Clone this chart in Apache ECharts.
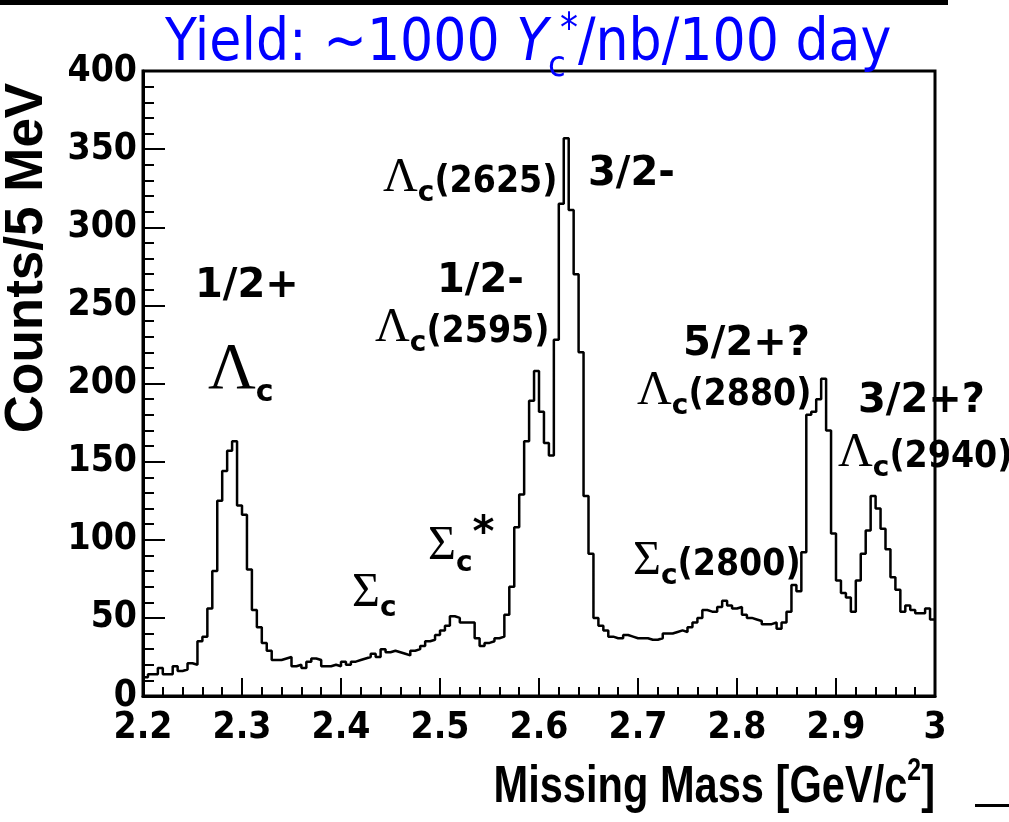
<!DOCTYPE html>
<html><head><meta charset="utf-8">
<script src="https://cdn.jsdelivr.net/npm/echarts@6/dist/echarts.min.js"></script>
<style>html,body{margin:0;padding:0;background:#fff}#c{width:1009px;height:822px}</style>
</head><body><div id="c"></div>
<script>
// ---- data ----
const binStart = 2.2;      // GeV/c^2
const binWidth = 0.005;    // 5 MeV
const counts = [
  12,14,14,18,14,14,19,16,17,21,
  20,35,38,56,80,125,144,157,163,122,
  116,81,55,44,34,29,23,23,24,25,
  19,20,18,22,24,23,19,19,20,19,
  22,20,22,23,24,25,27,25,30,28,
  29,28,27,26,29,30,32,35,36,39,
  42,45,51,50,47,47,47,37,32,34,
  35,37,38,52,70,108,129,163,189,208,
  182,162,154,228,315,357,311,270,220,128,
  91,50,45,42,38,37,37,39,38,37,
  37,37,36,36,37,40,40,41,42,41,
  44,47,50,55,54,54,57,61,58,56,
  57,52,50,49,48,46,46,47,43,47,
  54,71,67,92,180,182,190,203,170,104,
  74,66,63,54,74,91,106,128,120,107,
  94,76,68,54,58,55,53,53,56,49
];
const xTickLabels = ['2.2','2.3','2.4','2.5','2.6','2.7','2.8','2.9','3'];
const yTickLabels = ['0','50','100','150','200','250','300','350','400'];

// ---- chart ----
const NARROW = "'Liberation Sans Narrow','DejaVu Sans Condensed','Arial Narrow','Liberation Sans',sans-serif";
const COND = "'DejaVu Sans Condensed','DejaVu Sans',sans-serif";
const SANS = "'DejaVu Sans','Liberation Sans',sans-serif";
const SERIF = "'Liberation Serif','DejaVu Serif',serif";
const ARIAL = "'Liberation Sans',Arial,sans-serif";

const histData = counts.map((v, i) => [+(binStart + i * binWidth).toFixed(3), v]);
histData.push([+(binStart + counts.length * binWidth).toFixed(3), counts[counts.length - 1]]);

const mctx = document.createElement('canvas').getContext('2d');
function fontStr(p) { return (p.italic ? 'italic ' : '') + (p.bold ? 'bold ' : '') + p.size + 'px ' + p.family; }
function label(x, base, parts, align, color, sx) {
  color = color || '#000';
  sx = sx || 1;
  const widths = parts.map(p => { mctx.font = fontStr(p); return (mctx.measureText(p.t).width + (p.dx || 0)) * sx; });
  const total = widths.reduce((a, b) => a + b, 0);
  let cx = align === 'right' ? x - total : (align === 'center' ? x - total / 2 : x);
  return parts.map((p, i) => {
    const el = {
      type: 'text', x: cx + (p.dx || 0) * sx, y: base + (p.dy || 0) - 0.34 * p.size, silent: true, scaleX: sx,
      style: { text: p.t, font: fontStr(p), fill: color, textAlign: 'left', textVerticalAlign: 'middle' }
    };
    cx += widths[i];
    return el;
  });
}
function lamb(x, base, rest) {
  const parts = [
    { t: 'Λ', size: 48, family: SERIF },
    { t: 'c', size: 28, family: SANS, bold: true, dy: 8 }
  ];
  if (rest) parts.push({ t: rest, size: 37, family: COND, bold: true });
  return label(x, base, parts);
}
function sigma(x, base, rest) {
  const parts = [
    { t: 'Σ', size: 48, family: SERIF },
    { t: 'c', size: 28, family: SANS, bold: true, dy: 8 }
  ];
  if (rest) parts.push({ t: rest, size: 37, family: COND, bold: true });
  return label(x, base, parts);
}
function frac(x, base, t) { return label(x, base, [{ t: t, size: 40, family: SANS, bold: true }]); }

let graphics = [];
// top bar and small line
graphics.push({ type: 'rect', shape: { x: 0, y: 0, width: 948, height: 5 }, style: { fill: '#000' }, silent: true });
graphics.push({ type: 'rect', shape: { x: 975, y: 804, width: 34, height: 3 }, style: { fill: '#000' }, silent: true });
// title
graphics = graphics.concat(label(165, 65, [
  { t: 'Yield: ~1000 ', size: 58, family: NARROW },
  { t: 'Y', size: 58, family: NARROW, italic: true },
  { t: 'c', size: 36, family: NARROW, dy: 14 },
  { t: '*', size: 40, family: NARROW, dy: -20, dx: -6 },
  { t: '/nb/100 day', size: 58, family: NARROW }
], 'left', '#0000ff'));
// axis titles
graphics = graphics.concat(label(935, 805, [
  { t: 'Missing Mass [GeV/c', size: 52, family: ARIAL, bold: true },
  { t: '2', size: 31, family: ARIAL, bold: true, dy: -23 },
  { t: ']', size: 52, family: ARIAL, bold: true }
], 'right', '#000', 0.8));
graphics.push({
  type: 'text', x: 27, y: 258, rotation: Math.PI / 2, silent: true,
  style: { text: 'Counts/5 MeV', font: 'bold 53px ' + ARIAL, fill: '#000', textAlign: 'center', textVerticalAlign: 'middle' }
});
// annotations
graphics = graphics.concat(frac(195, 300, '1/2+'));
graphics = graphics.concat(label(208, 393, [
  { t: 'Λ', size: 66, family: SERIF },
  { t: 'c', size: 30, family: SANS, bold: true, dy: 10 }
]));
graphics = graphics.concat(sigma(352, 610));
graphics = graphics.concat(label(428, 563, [
  { t: 'Σ', size: 48, family: SERIF },
  { t: 'c', size: 28, family: SANS, bold: true, dy: 10 },
  { t: '*', size: 42, family: SANS, bold: true, dy: -14 }
]));
graphics = graphics.concat(frac(437, 295, '1/2-'));
graphics = graphics.concat(lamb(375, 345, '(2595)'));
graphics = graphics.concat(lamb(383, 195, '(2625)'));
graphics = graphics.concat(frac(588, 188, '3/2-'));
graphics = graphics.concat(frac(683, 358, '5/2+?'));
graphics = graphics.concat(lamb(637, 408, '(2880)'));
graphics = graphics.concat(frac(858, 415, '3/2+?'));
graphics = graphics.concat(lamb(838, 470, '(2940)'));
graphics = graphics.concat(sigma(633, 578, '(2800)'));

const chart = echarts.init(document.getElementById('c'), null, { renderer: 'canvas' });
chart.setOption({
  animation: false,
  backgroundColor: '#fff',
  grid: { left: 143, right: 74, top: 71, bottom: 126, show: true, borderColor: '#000', borderWidth: 3, backgroundColor: 'transparent' },
  xAxis: {
    type: 'value', min: 2.2, max: 3.0, interval: 0.1,
    axisLine: { show: true, lineStyle: { color: '#000', width: 3 } },
    axisTick: { show: true, inside: true, length: 18, lineStyle: { color: '#000', width: 2 } },
    minorTick: { show: true, splitNumber: 5, length: 9, lineStyle: { color: '#000', width: 2 } },
    splitLine: { show: false },
    axisLabel: {
      margin: 14, color: '#000', fontFamily: NARROW, fontWeight: 'bold', fontSize: 37,
      formatter: v => xTickLabels[Math.round((v - 2.2) / 0.1)] || ''
    }
  },
  yAxis: {
    type: 'value', min: 0, max: 400, interval: 50,
    axisLine: { show: true, lineStyle: { color: '#000', width: 3 } },
    axisTick: { show: true, inside: true, length: 22, lineStyle: { color: '#000', width: 2 } },
    minorTick: { show: true, splitNumber: 5, length: 11, lineStyle: { color: '#000', width: 2 } },
    splitLine: { show: false },
    axisLabel: {
      margin: 6, color: '#000', fontFamily: NARROW, fontWeight: 'bold', fontSize: 37,
      formatter: v => yTickLabels[Math.round(v / 50)] || ''
    }
  },
  series: [{
    type: 'line', step: 'end', symbol: 'none', data: histData,
    lineStyle: { color: '#000', width: 2.5 }, clip: false
  }],
  graphic: { elements: graphics }
});
</script>
</body></html>
